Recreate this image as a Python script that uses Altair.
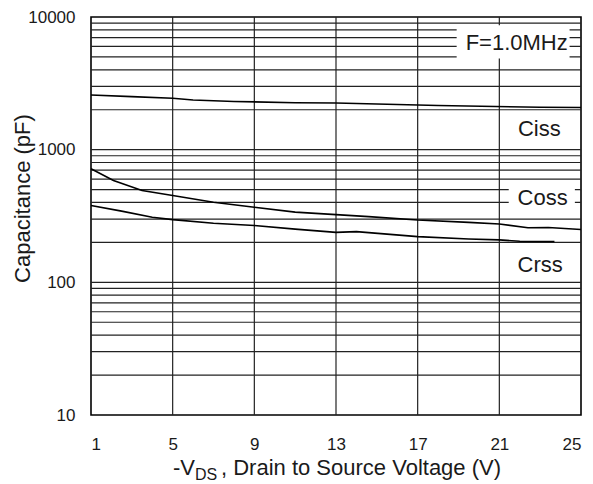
import altair as alt
import pandas as pd

# ---- data ----
ciss_v = [1, 3, 5, 6, 8, 11, 13, 14, 18, 23, 25]
ciss_c = [2580, 2510, 2440, 2370, 2310, 2260, 2250, 2230, 2150, 2090, 2080]

coss_v = [1, 2.1, 3.5, 5, 7, 9, 11, 13, 14.6, 17, 19.5, 21, 22.4, 23.4, 25]
coss_c = [718, 586, 492, 452, 402, 368, 338, 324, 313, 295, 283, 275, 258, 259, 250]

crss_v = [1, 2.5, 4, 5, 7, 9, 11, 13, 14, 17, 19.5, 21, 22, 23.7]
crss_c = [380, 344, 309, 297, 279, 268, 252, 238, 241, 221, 212, 209, 204, 203]

x_ticks = [1, 5, 9, 13, 17, 21, 25]
y_ticks = [10, 100, 1000, 10000]
x_grid = [5, 9, 13, 17, 21]
y_grid = [20, 30, 40, 50, 60, 70, 80, 90, 100,
          200, 300, 400, 500, 600, 700, 800, 900, 1000,
          2000, 3000, 4000, 5000, 6000, 7000, 8000, 9000]

label_text = ["F=1.0MHz", "Ciss", "Coss", "Crss"]
label_v = [21.85, 22.96, 23.12, 23.0]
label_c = [6325, 1423, 430, 134]

box_v1 = [18.91, 21.46]
box_v2 = [24.44, 24.7]
box_c1 = [8650, 550]
box_c2 = [4860, 326]

FONT = "Liberation Sans"
TXT = "#1a1a1a"

curves = pd.concat([
    pd.DataFrame({"vds": ciss_v, "cap": ciss_c, "s": "Ciss"}),
    pd.DataFrame({"vds": coss_v, "cap": coss_c, "s": "Coss"}),
    pd.DataFrame({"vds": crss_v, "cap": crss_c, "s": "Crss"}),
])

xs = alt.Scale(type="linear", domain=[1, 25], nice=False, zero=False)
ys = alt.Scale(type="log", domain=[10, 10000], nice=False)

ya = alt.Axis(values=y_ticks, format="d", grid=False, ticks=False,
              domain=False, labelFont=FONT, labelFontSize=17,
              labelColor=TXT, labelPadding=16, labelOverlap=False,
              title="Capacitance (pF)", titleFont=FONT,
              titleFontSize=22, titleFontWeight="normal",
              titleColor=TXT, titleAngle=270, titleX=-62,
              titleY=181, titleBaseline="alphabetic",
              titleAlign="center")
xa = alt.Axis(values=x_ticks, grid=False, ticks=False, domain=False,
              labelFont=FONT, labelFontSize=17, labelColor=TXT,
              labelPadding=34, labelBaseline="alphabetic",
              labelOverlap=False, title=None)


def X(f):
    return alt.X(f, scale=xs, axis=xa, title=None)


def Y(f):
    return alt.Y(f, scale=ys, axis=ya, title="Capacitance (pF)")


ygrid = alt.Chart(pd.DataFrame({"cap": y_grid})).mark_rule(
    color="#222", strokeWidth=1.2
).encode(y=Y("cap:Q"))

xgrid = alt.Chart(pd.DataFrame({"vds": x_grid})).mark_rule(
    color="#222", strokeWidth=1.2
).encode(x=X("vds:Q"))

boxes = alt.Chart(pd.DataFrame({"v1": box_v1, "v2": box_v2,
                                "c1": box_c1, "c2": box_c2})).mark_rect(
    fill="white"
).encode(x=X("v1:Q"), x2="v2:Q", y=Y("c1:Q"), y2="c2:Q")

lines = alt.Chart(curves).mark_line(color="black", strokeWidth=1.6).encode(
    x=X("vds:Q"), y=Y("cap:Q"), detail="s:N",
)

labels = alt.Chart(pd.DataFrame({"t": label_text, "vds": label_v,
                                 "cap": label_c})).mark_text(
    font=FONT, fontSize=22, color=TXT, align="center", baseline="middle"
).encode(x=X("vds:Q"), y=Y("cap:Q"), text="t:N")

t1 = alt.Chart(pd.DataFrame({"t": ["-V"]})).mark_text(
    font=FONT, fontSize=22, color=TXT, align="left", baseline="alphabetic"
).encode(x=alt.value(82), y=alt.value(458), text="t:N")
t2 = alt.Chart(pd.DataFrame({"t": ["DS"]})).mark_text(
    font=FONT, fontSize=16, color=TXT, align="left", baseline="alphabetic"
).encode(x=alt.value(104), y=alt.value(463), text="t:N")
t3 = alt.Chart(pd.DataFrame({"t": [", Drain to Source Voltage (V)"]})).mark_text(
    font=FONT, fontSize=22, color=TXT, align="left", baseline="alphabetic"
).encode(x=alt.value(130), y=alt.value(458), text="t:N")

chart = alt.layer(ygrid, xgrid, boxes, lines, labels, t1, t2, t3).resolve_scale(
    x="shared", y="shared"
).properties(
    width=490, height=398,
    autosize=alt.AutoSizeParams(type="none"),
    padding={"left": 83, "top": 9, "right": 4, "bottom": 68},
    background="white",
).configure_view(stroke="black", strokeWidth=1.6)

chart.save("out.html", embed_options={"renderer": "svg", "actions": False})
